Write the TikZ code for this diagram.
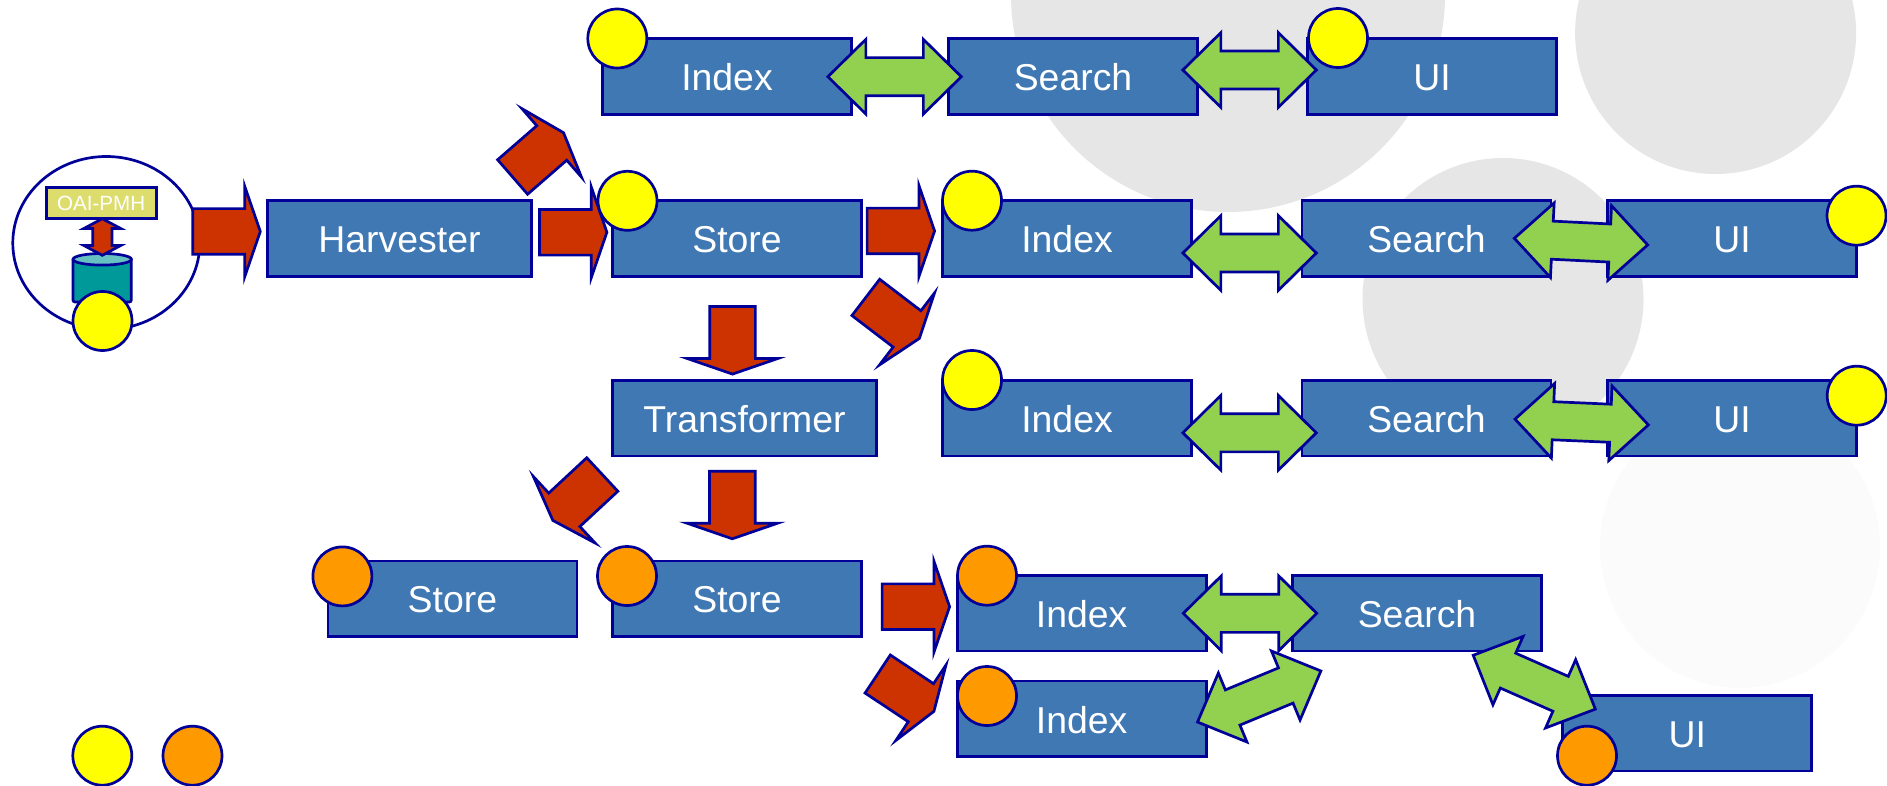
\documentclass[tikz,border=0pt]{standalone}
\usepackage{fontspec}
\setmainfont{Liberation Sans}
\usetikzlibrary{shapes.arrows, shapes.geometric}
\definecolor{navy}{HTML}{000099}
\definecolor{boxblue}{HTML}{3F78B3}
\definecolor{arrowred}{HTML}{CC3300}
\definecolor{arrowgreen}{HTML}{92D050}
\definecolor{pale}{HTML}{E6E6E6}
\definecolor{faint}{HTML}{FBFBFB}
\definecolor{khaki}{HTML}{DDDD6E}
\definecolor{dbteal}{HTML}{009999}
\definecolor{dbtop}{HTML}{66C2C2}
\definecolor{dotyellow}{HTML}{FFFF00}
\definecolor{dotorange}{HTML}{FF9900}
\tikzset{
  every node/.style={outer sep=0pt, line width=2.7pt},
  box/.style={rectangle, draw=navy, fill=boxblue, text=white, minimum width=249, minimum height=75.5, inner sep=0pt, text height=28.6pt, text depth=0pt, font=\fontsize{37.4}{40}\selectfont},
  widebox/.style={box, minimum width=264.5},
  redarrow/.style={single arrow, draw=navy, fill=arrowred, anchor=tail, inner xsep=0pt, inner ysep=21.5pt, minimum height=67.5, single arrow head extend=22.5pt, single arrow tip angle=142},
  greenarrow/.style={double arrow, draw=navy, fill=arrowgreen, inner xsep=0pt, inner ysep=17.7pt, minimum height=133.5, double arrow head extend=18.3pt, double arrow tip angle=89},
  yellowdot/.style={circle, draw=navy, fill=dotyellow, minimum size=59, inner sep=0pt},
  orangedot/.style={circle, draw=navy, fill=dotorange, minimum size=59, inner sep=0pt},
  backdisc/.style={ellipse, fill=pale, inner sep=0pt}
}
\begin{document}
\begin{tikzpicture}[x=1pt, y=-1pt]
\useasboundingbox (0,0) rectangle (1887,786);
\node[backdisc, minimum width=434, minimum height=434] (disc1) at (1228,-5) {};
\node[backdisc, minimum width=281, minimum height=282] (disc2) at (1715.6,33) {};
\node[backdisc, minimum width=281, minimum height=282] (disc3) at (1503,299) {};
\node[backdisc, fill=faint, minimum width=280, minimum height=282] (disc4) at (1740,547) {};

\node[box] (index1) at (727,76.5) {Index};
\node[box] (search1) at (1073,76.5) {Search};
\node[box] (ui1) at (1432,76.5) {UI};
\node[widebox] (harvester) at (399.5,238.5) {Harvester};
\node[box] (store1) at (737,238.5) {Store};
\node[box] (index2) at (1067,238.5) {Index};
\node[box] (search2) at (1426.5,238.5) {Search};
\node[box] (ui2) at (1732,238.5) {UI};
\node[widebox] (transformer) at (744.5,418.3) {Transformer};
\node[box] (index3) at (1067,418.3) {Index};
\node[box] (search3) at (1426.5,418.3) {Search};
\node[box] (ui3) at (1732,418.3) {UI};
\node[box] (store2) at (452.4,598.6) {Store};
\node[box] (store3) at (737,598.6) {Store};
\node[box] (index4) at (1081.7,613.3) {Index};
\node[box] (search4) at (1417,613.3) {Search};
\node[box] (index5) at (1081.7,718.7) {Index};
\node[box] (ui4) at (1687.3,733.3) {UI};

\node[ellipse, draw=navy, fill=white, minimum width=187, minimum height=173, inner sep=0pt] (source) at (106.3,243) {};
\draw[draw=navy, fill=dbteal, line width=2.7pt, rounded corners=2pt] (73,259.3)--(73,302)--(131.3,302)--(131.3,259.3);
\draw[draw=navy, fill=dbtop, line width=2.7pt] (102.2,259.3) ellipse (29.2 and 5.8);
\node[rectangle, draw=navy, fill=khaki, text=white, minimum width=110, minimum height=31.5, inner sep=0pt, font=\fontsize{20.6}{24}\selectfont] (oai) at (101.2,203) {OAI-PMH};
\node[double arrow, draw=navy, fill=arrowred, rotate=90, inner xsep=0pt, inner ysep=8.25pt, minimum height=36.6, double arrow head extend=8.75pt, double arrow tip angle=124] (link) at (102.3,237) {};

\node[redarrow] (out1) at (192.8,231.5) {};
\node[redarrow] (out2) at (539.4,232.3) {};
\node[redarrow] (out3) at (867.1,231) {};
\node[redarrow, rotate=41] (out4) at (512.6,177) {};
\node[redarrow, rotate=-37.4] (out5) at (865.8,297.4) {};
\node[redarrow, rotate=-90] (out6) at (732.5,306.6) {};
\node[redarrow, rotate=-90] (out7) at (732.3,471.3) {};
\node[redarrow, rotate=222.9] (out8) at (602.3,474.5) {};
\node[redarrow] (out9) at (882.1,606.7) {};
\node[redarrow, rotate=-33.6] (out10) at (877.7,674) {};

\node[greenarrow] (link1) at (894.6,76.7) {};
\node[greenarrow] (link2) at (1249.6,70) {};
\node[greenarrow] (link3) at (1249.6,253) {};
\node[greenarrow, rotate=-2.85] (link4) at (1581,241.6) {};
\node[greenarrow] (link5) at (1249.6,432.8) {};
\node[greenarrow, rotate=-2.5] (link6) at (1581.7,422) {};
\node[greenarrow] (link7) at (1250,613.3) {};
\node[greenarrow, rotate=22.5] (link8) at (1259.2,696.5) {};
\node[greenarrow, rotate=-23.8] (link9) at (1534.3,682.2) {};

\node[yellowdot] (dot1) at (617.3,38.5) {};
\node[yellowdot] (dot2) at (1338,38) {};
\node[yellowdot] (dot3) at (627.5,200.8) {};
\node[yellowdot] (dot4) at (972,200.7) {};
\node[yellowdot] (dot5) at (972,380) {};
\node[yellowdot] (dot6) at (1856.5,215.7) {};
\node[yellowdot] (dot7) at (1856.7,395.7) {};
\node[yellowdot] (dot8) at (102.5,321) {};
\node[yellowdot] (legend1) at (102.3,755.7) {};
\node[orangedot] (dot9) at (342.4,576.4) {};
\node[orangedot] (dot10) at (627,576) {};
\node[orangedot] (dot11) at (987,575.7) {};
\node[orangedot] (dot12) at (987,696) {};
\node[orangedot] (dot13) at (1587,755.7) {};
\node[orangedot] (legend2) at (192.5,755.7) {};
\end{tikzpicture}
\end{document}
